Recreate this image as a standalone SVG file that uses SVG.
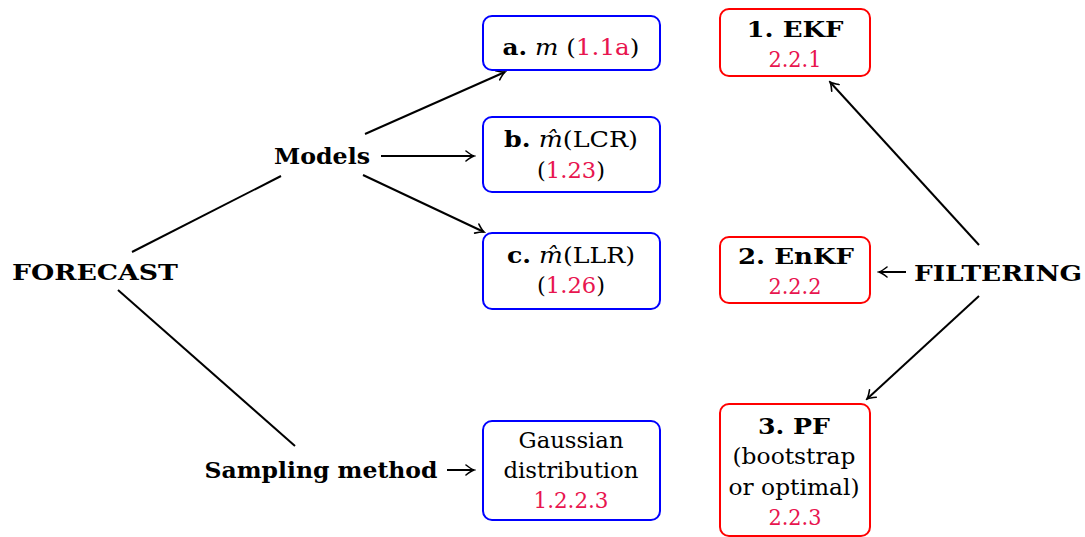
<svg xmlns="http://www.w3.org/2000/svg" width="1085" height="537" viewBox="0 0 1085 537">
<style>
text{font-family:'DejaVu Serif','Liberation Serif',serif;font-size:23px;fill:#000;text-anchor:middle}
.b{font-weight:bold}
.i{font-style:italic}
.ref{fill:#e8154f}
.bx{fill:#fff;stroke:#0000ff;stroke-width:2}
.rx{fill:#fff;stroke:#ff0000;stroke-width:2}
.ln{stroke:#000;stroke-width:2;fill:none}
</style>
<defs>
<marker id="ah" viewBox="-10 -6 12 12" refX="0" refY="0" markerWidth="12" markerHeight="12" markerUnits="userSpaceOnUse" orient="auto">
<path d="M-8,-5 Q-3,-1 0,0 Q-3,1 -8,5" fill="none" stroke="#000" stroke-width="1.6" stroke-linecap="round"/>
</marker>
</defs>
<g id="connectors">
<line class="ln" x1="132" y1="252" x2="281" y2="176"/>
<line class="ln" x1="118" y1="290" x2="295" y2="446"/>
<line class="ln" x1="365" y1="134" x2="505" y2="72" marker-end="url(#ah)"/>
<line class="ln" x1="381" y1="156" x2="474" y2="156" marker-end="url(#ah)"/>
<line class="ln" x1="363" y1="175" x2="484" y2="232" marker-end="url(#ah)"/>
<line class="ln" x1="979" y1="245" x2="830" y2="82" marker-end="url(#ah)"/>
<line class="ln" x1="979" y1="296" x2="867" y2="399" marker-end="url(#ah)"/>
</g>
<g id="forecast"><text class="b" x="95" y="280" textLength="166" lengthAdjust="spacingAndGlyphs">FORECAST</text></g>
<g id="models"><text class="b" x="322" y="164" textLength="96" lengthAdjust="spacingAndGlyphs">Models</text></g>
<g id="sampling">
<text class="b" x="321" y="478" textLength="233" lengthAdjust="spacingAndGlyphs">Sampling method</text>
<line class="ln" x1="447" y1="470" x2="474" y2="470" marker-end="url(#ah)"/>
</g>
<g id="filtering">
<text class="b" x="998" y="281" textLength="168" lengthAdjust="spacingAndGlyphs">FILTERING</text>
<line class="ln" x1="906" y1="272" x2="879" y2="272" marker-end="url(#ah)"/>
</g>
<g id="node-a">
<rect class="bx" x="483" y="16" width="177" height="54" rx="9"/>
<text x="571" y="55" textLength="137" lengthAdjust="spacingAndGlyphs"><tspan class="b">a.</tspan> <tspan class="i">m</tspan> (<tspan class="ref">1.1a</tspan>)</text>
</g>
<g id="node-b">
<rect class="bx" x="483" y="117" width="177" height="75" rx="9"/>
<text x="571" y="147" textLength="134" lengthAdjust="spacingAndGlyphs"><tspan class="b">b.</tspan> <tspan class="i">m̂</tspan>(LCR)</text>
<text x="571" y="178" textLength="68" lengthAdjust="spacingAndGlyphs">(<tspan class="ref">1.23</tspan>)</text>
</g>
<g id="node-c">
<rect class="bx" x="483" y="233" width="177" height="76" rx="9"/>
<text x="571" y="263" textLength="128" lengthAdjust="spacingAndGlyphs"><tspan class="b">c.</tspan> <tspan class="i">m̂</tspan>(LLR)</text>
<text x="571" y="293" textLength="68" lengthAdjust="spacingAndGlyphs">(<tspan class="ref">1.26</tspan>)</text>
</g>
<g id="node-gauss">
<rect class="bx" x="483" y="421" width="177" height="99" rx="9"/>
<text x="571" y="448" textLength="105" lengthAdjust="spacingAndGlyphs">Gaussian</text>
<text x="571" y="478" textLength="135" lengthAdjust="spacingAndGlyphs">distribution</text>
<text class="ref" x="571" y="508" textLength="75" lengthAdjust="spacingAndGlyphs">1.2.2.3</text>
</g>
<g id="node-ekf">
<rect class="rx" x="720" y="9" width="150" height="67" rx="9"/>
<text class="b" x="795" y="37" textLength="97" lengthAdjust="spacingAndGlyphs">1.  EKF</text>
<text class="ref" x="795" y="67" textLength="53" lengthAdjust="spacingAndGlyphs">2.2.1</text>
</g>
<g id="node-enkf">
<rect class="rx" x="720" y="237" width="150" height="66" rx="9"/>
<text class="b" x="796" y="264" textLength="116" lengthAdjust="spacingAndGlyphs">2.  EnKF</text>
<text class="ref" x="795" y="294" textLength="53" lengthAdjust="spacingAndGlyphs">2.2.2</text>
</g>
<g id="node-pf">
<rect class="rx" x="720" y="404" width="150" height="132" rx="9"/>
<text class="b" x="794" y="434" textLength="72" lengthAdjust="spacingAndGlyphs">3.  PF</text>
<text x="794" y="464" textLength="123" lengthAdjust="spacingAndGlyphs">(bootstrap</text>
<text x="794" y="495" textLength="131" lengthAdjust="spacingAndGlyphs">or optimal)</text>
<text class="ref" x="795" y="525" textLength="53" lengthAdjust="spacingAndGlyphs">2.2.3</text>
</g>
</svg>
